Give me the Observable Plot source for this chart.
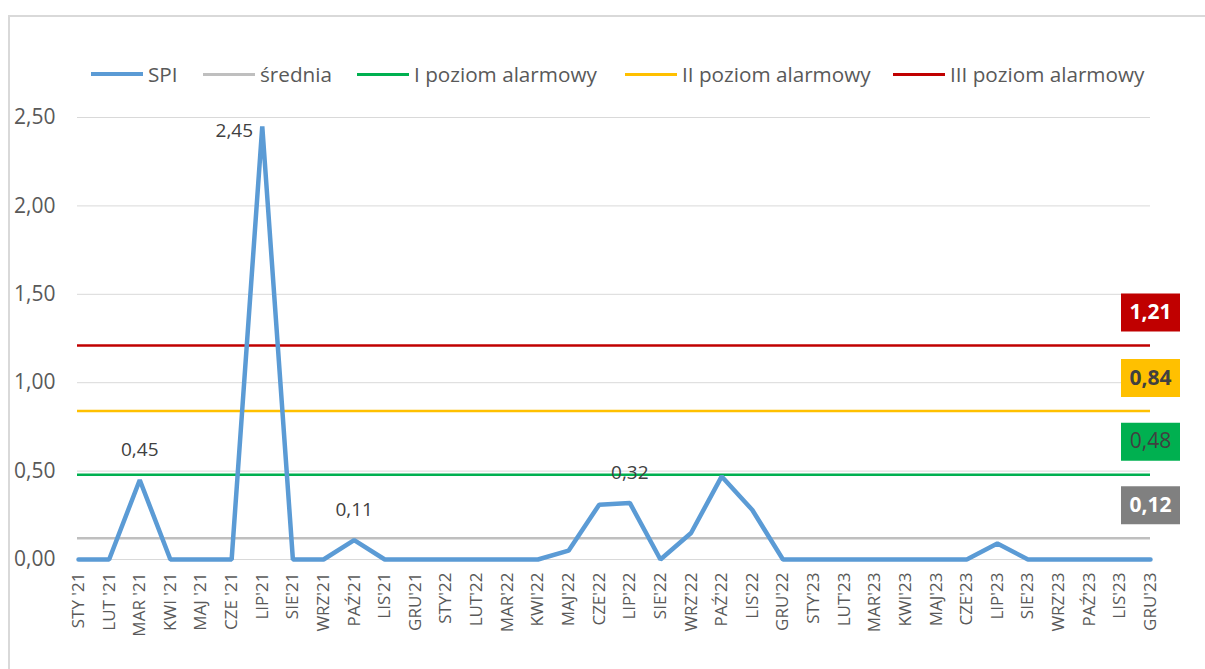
<!DOCTYPE html>
<html>
<head>
<meta charset="utf-8">
<script src="https://cdn.jsdelivr.net/npm/d3@7"></script>
<script src="https://cdn.jsdelivr.net/npm/@observablehq/plot@0.6"></script>
<style>
  body { margin: 0; background: #fff; font-family: "Open Sans", sans-serif; }
  #wrap { position: relative; width: 1205px; height: 669px; overflow: hidden; }
  #frame { position: absolute; left: 8px; top: 15px; width: 1300px; height: 700px;
           border-left: 2px solid #D9D9D9; border-top: 2px solid #D9D9D9; }
  #legend { position: relative; height: 90px; }
  .item { position: absolute; top: 61px; height: 26px; display: flex; align-items: center;
          font-size: 20.7px; color: #595959; white-space: nowrap; }
  .sw { width: 52px; margin-right: 5px; }
  #chart { position: relative; }
</style>
</head>
<body>
<div id="wrap">
  <div id="frame"></div>
  <div id="legend"></div>
  <div id="chart"></div>
</div>
<script>
const months = ["STY '21","LUT '21","MAR '21","KWI '21","MAJ '21","CZE '21","LIP'21","SIE'21","WRZ'21","PAŹ'21","LIS'21","GRU'21",
                "STY'22","LUT'22","MAR'22","KWI'22","MAJ'22","CZE'22","LIP'22","SIE'22","WRZ'22","PAŹ'22","LIS'22","GRU'22",
                "STY'23","LUT'23","MAR'23","KWI'23","MAJ'23","CZE'23","LIP'23","SIE'23","WRZ'23","PAŹ'23","LIS'23","GRU'23"];
const spi = [0,0,0.45,0,0,0,2.45,0,0,0.11,0,0,
             0,0,0,0,0.05,0.31,0.32,0,0.15,0.47,0.28,0,
             0,0,0,0,0,0,0.09,0,0,0,0,0];
const levelNames = ["średnia","I poziom alarmowy","II poziom alarmowy","III poziom alarmowy"];
const levelValues = [0.12, 0.48, 0.84, 1.21];
const levelColors = ["#BFBFBF","#00B050","#FFC000","#C00000"];
const boxColors = ["#808080","#00B050","#FFC000","#C00000"];
const boxTextColors = ["#FFFFFF","#404040","#404040","#FFFFFF"];
const boxTextWeights = ["bold","normal","bold","bold"];
const labeledMonths = ["MAR '21","LIP'21","PAŹ'21","LIP'22"];
const yTicks = [0, 0.5, 1, 1.5, 2, 2.5];

const fmt = v => v.toFixed(2).replace(".", ",");
const spiData = months.map((m, i) => ({month: m, value: spi[i]}));
const levels = levelNames.map((n, i) => ({name: n, value: levelValues[i], color: levelColors[i],
  box: boxColors[i], tc: boxTextColors[i], fw: boxTextWeights[i], month: months[months.length - 1]}));
const labelData = spiData.filter(d => labeledMonths.includes(d.month));

// legend
const legendItems = [
  {name: "SPI", color: "#5B9BD5", w: 4, left: 91},
  {name: levelNames[0], color: levelColors[0], w: 3, left: 203},
  {name: levelNames[1], color: levelColors[1], w: 3, left: 357},
  {name: levelNames[2], color: levelColors[2], w: 3, left: 625},
  {name: levelNames[3], color: levelColors[3], w: 3, left: 893}
];
const leg = document.getElementById("legend");
for (const it of legendItems) {
  const d = document.createElement("div");
  d.className = "item";
  d.style.left = it.left + "px";
  const s = document.createElement("span");
  s.className = "sw";
  s.style.height = it.w + "px";
  s.style.background = it.color;
  d.appendChild(s);
  d.appendChild(document.createTextNode(it.name));
  leg.appendChild(d);
}

const boxSymbol = { draw(ctx, size) { ctx.rect(-29.5, -19, 59, 38); } };

const chart = Plot.plot({
  width: 1205,
  height: 579,
  marginLeft: 77,
  marginRight: 55,
  marginTop: 27,
  marginBottom: 110,
  style: { fontFamily: "Open Sans, sans-serif", background: "transparent", overflow: "visible" },
  x: { type: "point", domain: months, padding: 0, round: false, range: [78, 1150] },
  y: { domain: [0, 2.5] },
  marks: [
    Plot.gridY(yTicks, { stroke: "#D9D9D9", strokeOpacity: 1, strokeWidth: 1 }),
    Plot.axisY(yTicks, { tickSize: 0, tickPadding: 22, tickFormat: fmt, fontSize: 21, fill: "#595959", label: null }),
    Plot.axisX({ tickSize: 0, tickPadding: 13, tickRotate: -90, fontSize: 17, fill: "#595959", label: null }),
    Plot.ruleY(levels, { y: "value", stroke: "color", strokeWidth: 2.5 }),
    Plot.line(spiData, { x: "month", y: "value", stroke: "#5B9BD5", strokeWidth: 4.5, strokeLinejoin: "miter", strokeLinecap: "round" }),
    Plot.text(labelData, { x: "month", y: "value", text: d => fmt(d.value),
      fontSize: 19, fill: "#404040", dy: -30, filter: d => d.value < 2 }),
    Plot.text(labelData, { x: "month", y: "value", text: d => fmt(d.value),
      dx: -28, dy: 5, fontSize: 19, fill: "#404040", filter: d => d.value >= 2 }),
    Plot.dot(levels, { x: "month", y: "value", symbol: boxSymbol, fill: "box", stroke: null, r: 10, dy: -33 }),
    Plot.text(levels, { x: "month", y: "value", text: d => fmt(d.value), fill: "tc", fontWeight: "bold",
      fontSize: 21, dy: -33, filter: d => d.fw === "bold" }),
    Plot.text(levels, { x: "month", y: "value", text: d => fmt(d.value), fill: "tc",
      fontSize: 21, dy: -33, filter: d => d.fw !== "bold" })
  ]
});
document.getElementById("chart").appendChild(chart);
</script>
</body>
</html>
